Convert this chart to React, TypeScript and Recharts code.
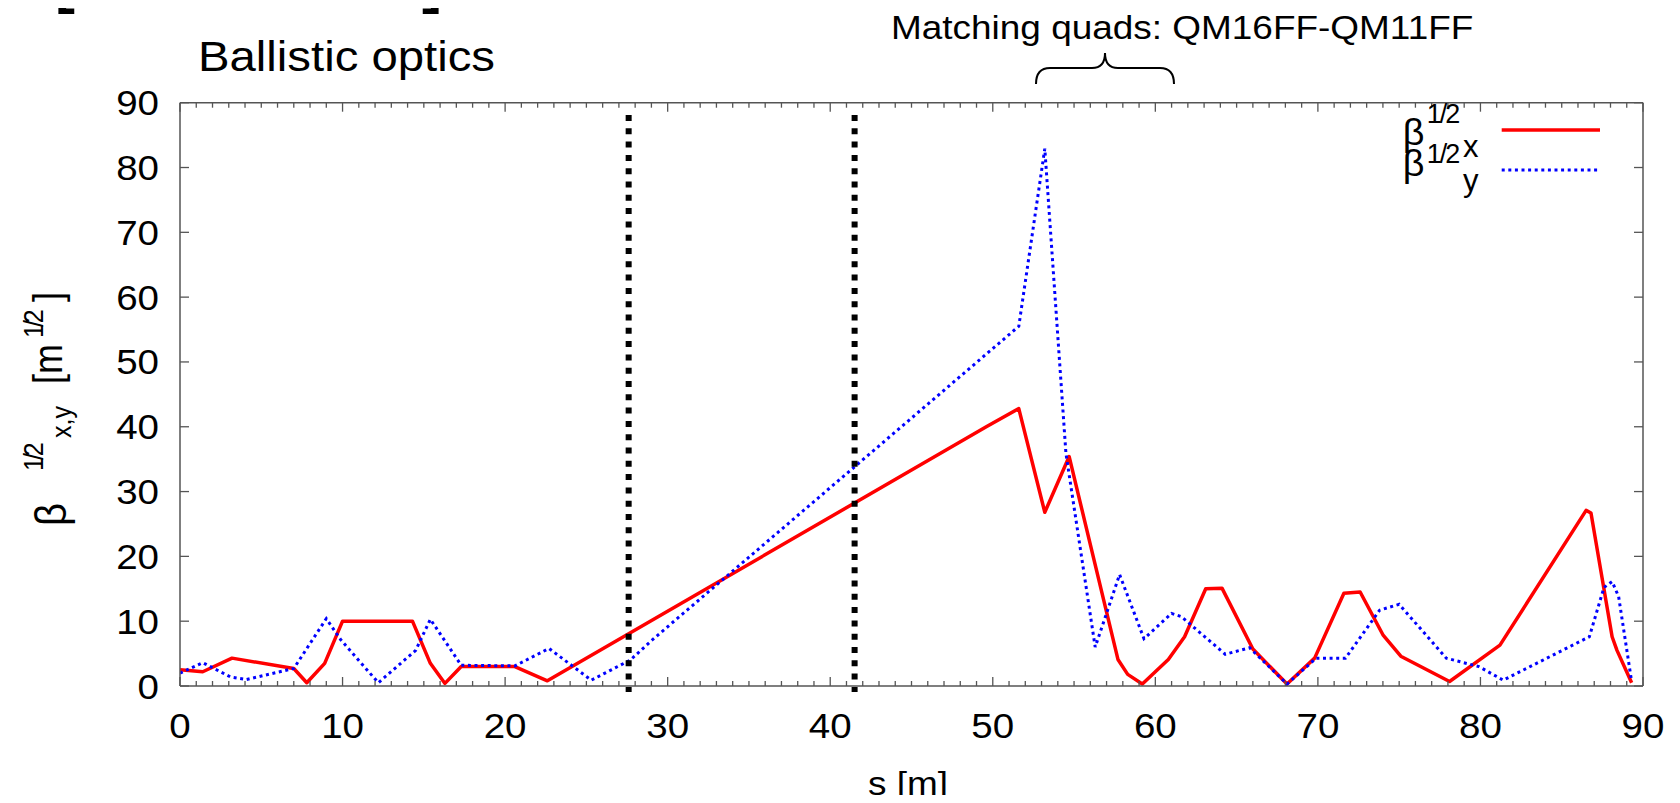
import React from 'react';
import { LineChart, Line, XAxis, YAxis, ReferenceLine } from 'recharts';

// ---- data ----
const betaXS = [0, 1.4, 3.2, 7.0, 7.8, 8.9, 10.0, 14.3, 15.4, 16.3, 17.3, 20.6, 22.6, 49.6, 51.6, 53.2, 54.7, 57.7, 58.3, 59.2, 60.8, 61.8, 63.1, 64.1, 66.0, 68.1, 69.8, 71.6, 72.6, 74.0, 75.1, 78.1, 81.2, 86.5, 86.8, 88.1, 88.4, 89.3];
const betaXV = [2.5, 2.2, 4.3, 2.7, 0.5, 3.5, 10.0, 10.0, 3.5, 0.4, 3.0, 3.0, 0.8, 40.0, 42.8, 26.8, 35.4, 4.1, 1.8, 0.3, 4.1, 7.6, 15.0, 15.1, 5.7, 0.3, 4.3, 14.3, 14.5, 7.9, 4.6, 0.7, 6.3, 27.1, 26.7, 7.6, 5.5, 0.5];

const betaYS = [0, 1.4, 3.1, 4.1, 7.0, 9.0, 9.9, 12.2, 14.5, 15.4, 17.3, 20.6, 22.7, 25.3, 27.7, 29.0, 51.6, 53.2, 54.5, 56.3, 57.8, 59.3, 61.0, 61.6, 64.3, 65.8, 68.1, 69.9, 71.7, 73.8, 75.0, 77.9, 79.9, 81.4, 86.7, 87.6, 88.1, 88.5, 89.3];
const betaYV = [2.0, 3.6, 1.4, 1.0, 2.7, 10.4, 7.1, 0.5, 5.5, 10.3, 3.2, 3.1, 5.8, 0.9, 4.0, 7.0, 55.5, 82.9, 35.9, 6.0, 17.2, 7.3, 11.2, 10.7, 4.9, 5.9, 0.3, 4.3, 4.3, 11.7, 12.6, 4.3, 3.0, 0.9, 7.6, 15.2, 16.1, 13.8, 0.7];

const xMinorTicks = Array.from({ length: 91 }, (_, i) => i);
const yTicks = [0, 10, 20, 30, 40, 50, 60, 70, 80, 90];
const markerS = [27.6, 41.5];
const markerTop = 88.1;
const markerBottom = -0.92;

const redData = betaXS.map((s, i) => ({ s, v: betaXV[i] }));
const blueData = betaYS.map((s, i) => ({ s, v: betaYV[i] }));

// ---- styles ----
const RED = '#ff0000';
const BLUE = '#0000ff';
const AX = '#555555';
const FONT = 'Liberation Sans, Arial, Helvetica, sans-serif';
const BLUE_DASH = '3 3.6';
const TICK_FONT = 35;

function ST(props: any) {
  const { x, y, size, anchor = 'start', sx = 1.12, rot = 0, weight = 'normal', ls = 0, children } = props;
  const t = `translate(${x},${y}) scale(${sx},1)` + (rot ? ` rotate(${rot})` : '');
  return (
    <text transform={t} x={0} y={0} fontSize={size} fontFamily={FONT} textAnchor={anchor}
      fontWeight={weight} letterSpacing={ls} fill="#000">{children}</text>
  );
}

const BottomTick = (p: any) => {
  const { x, y, payload } = p;
  const major = payload.value % 10 === 0;
  return (
    <g>
      <line x1={x} x2={x} y1={y} y2={y - (major ? 9 : 5)} stroke={AX} strokeWidth={1.3} />
      {major ? <ST x={x} y={y + 52} size={TICK_FONT} anchor="middle" sx={1.1}>{String(payload.value)}</ST> : null}
    </g>
  );
};
const TopTick = (p: any) => {
  const { x, y, payload } = p;
  const major = payload.value % 10 === 0;
  return <line x1={x} x2={x} y1={y} y2={y + (major ? 9 : 5)} stroke={AX} strokeWidth={1.3} />;
};
const LeftTick = (p: any) => {
  const { x, y, payload } = p;
  return (
    <g>
      <line x1={x} x2={x + 9} y1={y} y2={y} stroke={AX} strokeWidth={1.3} />
      <ST x={x - 21} y={y + 12.5} size={TICK_FONT} anchor="end" sx={1.1}>{String(payload.value)}</ST>
    </g>
  );
};
const RightTick = (p: any) => {
  const { x, y } = p;
  return <line x1={x} x2={x - 9} y1={y} y2={y} stroke={AX} strokeWidth={1.3} />;
};

export default function App() {
  return (
    <div style={{ position: 'relative', width: 1664, height: 787 }}>
      <LineChart width={1664} height={787} margin={{ top: 84.7, right: 19, bottom: 59, left: 112 }}>
        <XAxis xAxisId="b" type="number" dataKey="s" domain={[0, 90]} ticks={xMinorTicks} interval={0}
          tickSize={0} tickMargin={0} tickLine={false} axisLine={{ stroke: AX, strokeWidth: 1.5 }}
          tick={BottomTick} height={50} allowDataOverflow />
        <XAxis xAxisId="t" orientation="top" type="number" dataKey="s" domain={[0, 90]} ticks={xMinorTicks} interval={0}
          tickSize={0} tickMargin={0} tickLine={false} axisLine={{ stroke: AX, strokeWidth: 1.5 }}
          tick={TopTick} height={10} allowDataOverflow />
        <YAxis yAxisId="l" type="number" domain={[0, 90]} ticks={yTicks} interval={0}
          tickSize={0} tickMargin={0} tickLine={false} axisLine={{ stroke: AX, strokeWidth: 1.5 }}
          tick={LeftTick} width={60} allowDataOverflow />
        <YAxis yAxisId="r" orientation="right" type="number" domain={[0, 90]} ticks={yTicks} interval={0}
          tickSize={0} tickMargin={0} tickLine={false} axisLine={{ stroke: AX, strokeWidth: 1.5 }}
          tick={RightTick} width={10} allowDataOverflow />
        <Line xAxisId="b" yAxisId="l" data={redData} dataKey="v" type="linear" stroke={RED}
          strokeWidth={3.5} dot={false} activeDot={false} isAnimationActive={false} strokeLinejoin="round" />
        <Line xAxisId="b" yAxisId="l" data={blueData} dataKey="v" type="linear" stroke={BLUE}
          strokeWidth={3} strokeDasharray={BLUE_DASH} dot={false} activeDot={false} isAnimationActive={false} />
        {markerS.map((s) => (
          <ReferenceLine key={s} xAxisId="b" yAxisId="l" ifOverflow="visible"
            segment={[{ x: s, y: markerTop }, { x: s, y: markerBottom }]}
            stroke="#000" strokeWidth={6} strokeDasharray="6 7.3" />
        ))}
      </LineChart>
      <svg style={{ position: 'absolute', left: -8, top: -8, pointerEvents: 'none' }} width={1680} height={803}>
        {/* cut-off bracket glyphs at the very top */}
        <ST x={55} y={2} size={60} weight="bold" sx={1}>[</ST>
        <ST x={422} y={2} size={60} weight="bold" sx={1}>]</ST>
        <ST x={198} y={70.7} size={43} sx={1.1}>Ballistic optics</ST>
        <ST x={891} y={38.6} size={33} sx={1.12}>Matching quads: QM16FF-QM11FF</ST>
        <path d="M1036,84 Q1036,68 1050,68 L1092,68 Q1105,68 1105,53 Q1105,68 1118,68 L1160,68 Q1174,68 1174,84"
          fill="none" stroke="#000" strokeWidth={2} />
        {/* legend */}
        <ST x={1402.7} y={145} size={37} sx={1.02}>β</ST>
        <ST x={1426.7} y={123} size={27} sx={1.0} ls={-2}>1/2</ST>
        <ST x={1463} y={157} size={31} sx={1.0}>x</ST>
        <line x1={1501.7} x2={1600} y1={130} y2={130} stroke={RED} strokeWidth={3.5} />
        <ST x={1402.7} y={176} size={37} sx={1.02}>β</ST>
        <ST x={1426.7} y={163} size={27} sx={1.0} ls={-2}>1/2</ST>
        <ST x={1463} y={191} size={31} sx={1.0}>y</ST>
        <line x1={1501.7} x2={1600} y1={170} y2={170} stroke={BLUE} strokeWidth={3} strokeDasharray={BLUE_DASH} />
        {/* y axis title */}
        <ST x={66} y={526} size={40} rot={-90}>β</ST>
        <ST x={43} y={471} size={25} rot={-90} ls={-3}>1/2</ST>
        <ST x={71} y={438} size={25} rot={-90}>x,y</ST>
        <ST x={62} y={384} size={36} rot={-90}>[m</ST>
        <ST x={43} y={338} size={25} rot={-90} ls={-3}>1/2</ST>
        <ST x={62} y={302} size={36} rot={-90}>]</ST>
        {/* x axis title */}
        <ST x={908} y={795} size={33} anchor="middle" sx={1.12}>s [m]</ST>
      </svg>
    </div>
  );
}
